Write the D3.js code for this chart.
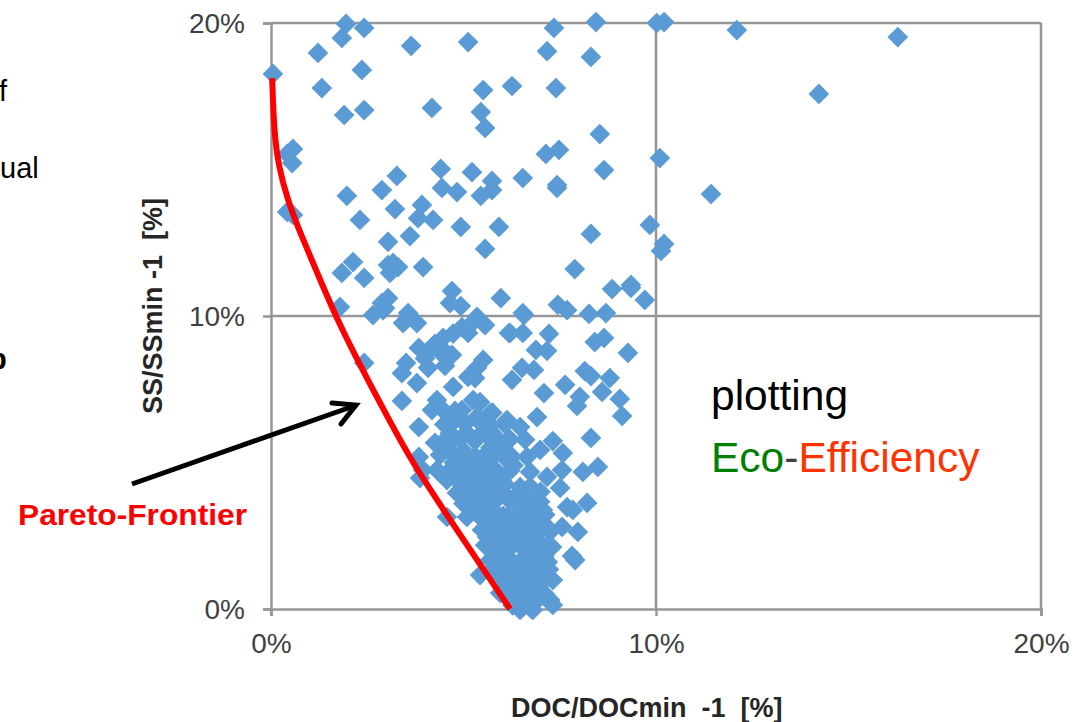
<!DOCTYPE html>
<html><head><meta charset="utf-8">
<style>html,body{margin:0;padding:0;background:#fff;overflow:hidden}svg{display:block}text{font-family:"Liberation Sans",Arial,sans-serif}</style>
<script src="https://cdn.jsdelivr.net/npm/d3@7"></script></head><body>
<svg id="c" width="1082" height="722"></svg>
<script>
const docValues = [1.95,2.42,1.84,1.22,3.64,5.12,7.35,7.17,0.05,2.36,1.32,5.51,6.26,7.40,1.90,2.42,4.18,5.45,5.56,0.57,0.42,0.55,7.14,7.48,4.41,5.22,3.27,2.88,1.97,5.74,6.54,4.44,4.83,5.45,5.74,7.43,7.43,0.42,0.57,3.22,3.92,2.31,3.82,4.21,4.93,5.92,3.61,3.04,5.56,2.13,1.84,2.42,3.17,3.30,3.09,3.04,3.95,4.70,4.65,4.93,5.97,1.79,3.04,2.88,2.96,2.65,3.56,5.35,6.54,7.45,
8.31,8.44,10.02,10.21,12.10,16.28,14.23,10.10,11.43,9.84,10.21,10.13,8.54,8.65,8.31,7.89,8.86,9.35,9.35,9.71,7.69,8.26,8.70,6.57,6.18,7.22,6.88,8.41,8.65,9.27,8.15,8.31,8.80,8.60,9.06,9.12,8.02,7.95,7.64,7.09,8.31,8.49,8.10,8.21,
2.91,3.43,3.79,3.56,4.96,5.12,5.30,5.56,6.21,6.54,7.17,4.47,3.84,4.13,4.39,4.70,4.08,3.51,3.40,3.79,2.42,5.51,5.35,5.12,5.30,6.52,6.83,6.26,3.40,4.73,4.31,4.18,5.25,5.43,4.96,5.35,3.84,6.91,6.13,6.47,7.32,7.58,4.26,4.65,5.09,5.48,5.87,6.99,6.65,3.84,3.95,7.17,7.56,7.51,4.31,4.73,4.57,3.87,4.91,5.51,6.13,5.95,6.47,4.57,4.83,5.17,5.09,5.61,6.13,6.65,7.06,7.69,7.84,7.97,7.90,7.82,7.32,7.17,7.56,5.61,5.69,5.43,5.95,7.25,6.47,6.80,7.32,
6.02,6.31,6.55,6.82,7.00,5.85,6.15,6.42,6.70,6.95,7.20,5.78,6.05,6.30,6.58,6.85,7.10,5.92,6.18,6.44,6.72,6.98,7.22,5.75,6.08,6.33,6.60,6.85,7.08,5.95,6.20,6.48,6.75,7.00,6.10,6.35,6.62,6.90,6.28,6.55,6.75,
5.00,5.30,5.20,5.50,5.70,5.90,6.20,6.40,4.60,5.00,5.20,5.70,5.60,6.00,5.40,5.70,5.00,5.75,6.20,6.30,4.50,4.75,4.95,5.40,5.75,6.50,6.90,7.00,
6.08,6.34,6.60,6.86,7.12,5.82,6.07,6.36,6.73,6.99,5.69,5.95,6.26,6.52,6.86,7.19,5.56,5.87,6.21,6.60,6.93,7.30,5.48,5.82,6.15,6.47,6.86,7.25,5.38,5.69,6.03,6.41,6.73,7.12,5.17,5.48,5.82,6.21,6.60,6.99,4.96,5.30,5.69,6.08,6.73,4.65,5.04,5.38,5.82,6.21,6.73,4.39,4.96,5.30,5.82,6.26,4.52,4.91,5.30,5.69,6.15,6.60,4.65,5.04,5.69,6.08,4.52,4.78,5.69,4.26,4.00,4.52,4.39,4.73];
const ssValues = [19.97,19.83,19.49,18.98,19.22,19.35,19.83,19.04,18.26,18.40,17.78,17.71,17.85,17.78,16.86,17.03,17.10,16.96,16.42,15.70,15.53,15.22,15.53,15.67,15.02,14.91,14.78,14.30,14.10,14.61,14.71,14.37,14.23,14.10,14.30,14.47,14.37,13.55,13.45,13.65,13.79,13.28,13.34,13.28,13.04,13.04,12.73,12.53,12.29,11.84,11.47,11.30,11.81,11.67,11.47,11.74,11.67,10.85,10.44,10.34,10.61,10.31,10.61,10.44,10.27,10.03,10.10,9.97,10.10,10.38,
18.84,20.03,20.00,20.03,19.76,19.52,17.58,15.39,14.16,13.11,12.46,12.22,16.21,14.98,12.80,11.60,10.92,11.06,10.96,10.55,10.20,10.07,10.10,10.03,9.42,9.39,8.84,9.11,9.25,8.74,8.12,7.95,7.88,7.41,7.17,6.59,7.24,6.93,7.65,7.37,5.84,4.85,4.68,3.62,
10.20,9.76,9.76,9.93,9.62,9.42,9.86,9.69,9.42,9.42,8.81,9.25,8.91,8.84,8.77,8.67,8.23,8.40,8.05,7.71,8.40,8.50,8.23,7.92,7.88,8.23,8.16,7.82,7.10,7.58,7.13,6.79,7.13,7.06,6.79,6.55,6.21,6.55,6.45,6.21,5.73,5.32,5.67,6.01,6.01,6.01,5.84,5.43,5.19,5.19,4.74,4.51,4.74,4.13,4.74,5.26,4.40,4.47,4.51,5.19,5.09,4.40,4.16,3.14,3.96,3.96,3.14,3.72,3.14,3.48,3.38,3.48,3.38,2.63,1.67,1.81,0.99,2.80,2.80,2.46,2.94,1.16,0.55,0.31,-0.03,-0.03,0.14,
2.90,3.05,2.85,3.10,2.70,2.55,2.50,2.62,2.45,2.30,2.20,2.10,2.05,2.20,2.03,1.95,1.80,1.65,1.72,1.58,1.62,1.42,1.35,1.35,1.25,1.12,1.20,1.05,0.95,0.92,0.78,0.82,0.70,0.55,0.42,0.35,0.40,0.28,0.12,0.08,0.02,
3.60,3.50,4.40,4.20,4.60,3.90,3.70,3.90,5.60,5.40,5.00,5.50,5.00,5.50,6.40,6.30,6.40,6.70,5.80,4.90,6.30,5.00,4.10,3.30,3.40,3.40,3.70,4.00,
0.56,0.60,0.52,0.58,0.50,1.16,1.20,1.12,1.18,1.14,1.67,1.70,1.62,1.66,1.72,1.60,2.18,2.22,2.14,2.20,2.16,2.12,2.70,2.66,2.74,2.68,2.72,2.64,3.21,3.25,3.18,3.24,3.16,3.22,3.72,3.76,3.68,3.74,3.70,3.66,4.23,4.28,4.20,4.26,4.18,4.74,4.78,4.70,4.76,4.72,4.68,5.26,5.30,5.22,5.28,5.20,5.77,5.80,5.74,5.82,5.72,5.78,6.28,6.32,6.24,6.30,6.72,6.76,6.68,9.05,8.55,8.30,8.95,9.40];
const frontierDoc = [0.03,0.08,0.20,0.43,0.76,1.14,1.68,2.42,3.05,3.63,4.60,6.21];
const frontierSS = [18.12,16.25,15.09,13.96,12.83,11.67,9.97,8.05,6.50,5.09,3.14,0.00];
const tickValues = [0,10,20];

const svg = d3.select("#c");
const x = d3.scaleLinear().domain([0,20]).range([271,1041]);
const y = d3.scaleLinear().domain([0,20]).range([609,23]);
const gray = "#969696";

// fragments of the slide's body text at the left edge
svg.append("text").attr("x",-1).attr("y",101).attr("font-size",29).attr("fill","#000").text("f");
svg.append("text").attr("x",0).attr("y",178).attr("font-size",29).attr("fill","#000").text("ual");
svg.append("text").attr("x",-11).attr("y",369).attr("font-size",29).attr("font-weight","bold").attr("fill","#000").text("p");

// grid + axes
const g = svg.append("g");
const gy = g.append("g").attr("transform","translate(271,0)").call(d3.axisLeft(y).tickValues(tickValues).tickSize(8).tickFormat(d=>d+"%"));
const gx = g.append("g").attr("transform","translate(0,609)").call(d3.axisBottom(x).tickValues(tickValues).tickSize(7).tickFormat(d=>d+"%"));
[gx,gy].forEach(a=>{a.select(".domain").attr("stroke",gray).attr("stroke-width",2.5);a.selectAll("line").attr("stroke",gray).attr("stroke-width",2.5);
  a.selectAll("text").attr("font-size",28).attr("fill","#404040").attr("font-family",'"Liberation Sans"');});
gx.selectAll("text").attr("y",24);
gy.selectAll("text").attr("x",-26).attr("dy","0.34em");
g.selectAll("line.gh").data(tickValues.slice(1)).join("line").attr("class","gh").attr("x1",x(0)).attr("x2",x(20)).attr("y1",d=>y(d)).attr("y2",d=>y(d)).attr("stroke",gray).attr("stroke-width",2.5);
g.selectAll("line.gv").data(tickValues.slice(1)).join("line").attr("class","gv").attr("y1",y(0)).attr("y2",y(20)).attr("x1",d=>x(d)).attr("x2",d=>x(d)).attr("stroke",gray).attr("stroke-width",2.5);

// points
const diamond = d3.symbol().type(d3.symbolSquare).size(215);
svg.append("g").selectAll("path").data(docValues.map((d,i)=>[d,ssValues[i]])).join("path")
  .attr("d",diamond).attr("fill","#5b9bd5")
  .attr("transform",d=>`translate(${x(d[0])},${y(d[1])}) rotate(45)`);

// frontier
const line = d3.line().x(d=>x(d[0])).y(d=>y(d[1])).curve(d3.curveBasis);
svg.append("path").datum(frontierDoc.map((d,i)=>[d,frontierSS[i]])).attr("d",line).attr("fill","none").attr("stroke","#ff0000").attr("stroke-width",6);

// arrow
svg.append("line").attr("x1",132).attr("y1",484).attr("x2",354).attr("y2",406).attr("stroke","#000").attr("stroke-width",5);
svg.append("polyline").attr("points","332,403 356,405 341,424").attr("fill","none").attr("stroke","#000").attr("stroke-width",5).attr("stroke-linecap","round").attr("stroke-linejoin","miter");

// annotations
svg.append("text").attr("x",18).attr("y",525).attr("font-size",29).attr("font-weight","bold").attr("fill","#f00").attr("textLength",229).attr("lengthAdjust","spacingAndGlyphs").text("Pareto-Frontier");
svg.append("text").attr("x",711).attr("y",410).attr("font-size",42.5).attr("fill","#000").text("plotting");
const t = svg.append("text").attr("x",711).attr("y",472).attr("font-size",42.5);
t.append("tspan").attr("fill","#008000").text("Eco");
t.append("tspan").attr("fill","#404040").text("-");
t.append("tspan").attr("fill","#ff3300").text("Efficiency");
svg.append("text").attr("x",511).attr("y",717).attr("font-size",27).attr("font-weight","bold").attr("fill","#262626").attr("xml:space","preserve").text("DOC/DOCmin  -1  [%]");
svg.append("text").attr("transform","translate(162,414) rotate(-90)").attr("font-size",27).attr("font-weight","bold").attr("fill","#262626").attr("xml:space","preserve").text("SS/SSmin -1  [%]");
</script></body></html>
